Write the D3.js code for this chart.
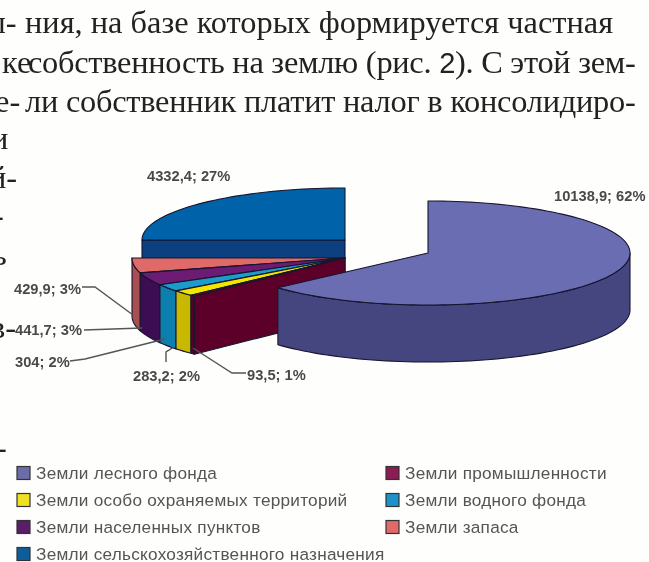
<!DOCTYPE html>
<html><head><meta charset="utf-8">
<script src="https://cdnjs.cloudflare.com/ajax/libs/d3/7.8.5/d3.min.js"></script>
<style>html,body{margin:0;padding:0;background:#fefefc}svg{display:block}</style>
</head><body><div id="c"></div>
<script>
const categories=["Земли лесного фонда","Земли промышленности","Земли особо охраняемых территорий","Земли водного фонда","Земли населенных пунктов","Земли запаса","Земли сельскохозяйственного назначения"];
const values=[10138.9,93.5,283.2,304,441.7,429.9,4332.4];
const valueLabels=["10138,9; 62%","93,5; 1%","283,2; 2%","304; 2%","441,7; 3%","429,9; 3%","4332,4; 27%"];
const topColors=["#6a6db2","#7a0038","#f2e600","#1b9ccc","#6d1a73","#e06a68","#0462a8"];
const wallColors=["#45457f","#5c0029","#c9b800","#0f7fae","#3c0a52","#a85052","#07417f"];
const legendColors=["#6a6da8","#8c1a55","#f0e020","#1a93c8","#5d1a6b","#e06a68","#0f5c9c"];
const legendOrder=[[0,0],[2,0],[4,0],[6,0],[1,1],[3,1],[5,1]];
const leaders=[[],[[193,348],[232,373],[246,373]],[[166,362],[166,352],[174,347]],[[70,361],[85,359],[165,339]],[[84,330],[142,328]],[[82,287],[95,287],[133,315]],[]];
const labelAnchors=[[554,201],[247,380],[133,381],[15,367],[15,335],[14,294],[147,181]];
const paragraph=[
 {x:25,y:33,ls:0,parts:["ния, на базе которых формируется частная"]},
 {x:28,y:73,ls:-0.27,parts:["собственность на землю (рис. ",["2"],"). С этой зем-"]},
 {x:25,y:112,ls:-0.24,parts:["ли собственник платит налог в консолидиро-"]}];
const margins=[
 {x:-16,y:33,t:"ы-"},{x:2,y:73,t:"ке"},{x:-5,y:112,t:"е-"},{x:-9,y:149,t:"и"},
 {x:-11,y:188,t:"й-"},{x:-7,y:226,t:"-"},{x:-8,y:265,t:"ь"},{x:-10,y:338,t:"в-"},{x:-4,y:458,t:"-"}];

const W=649,H=562;
const svg=d3.select("#c").append("svg").attr("width",W).attr("height",H);
svg.append("rect").attr("width",W).attr("height",H).attr("fill","#fefefc");
const defs=svg.append("defs");
defs.append("filter").attr("id","soft").append("feGaussianBlur").attr("stdDeviation",0.55);
defs.append("filter").attr("id","soft2").append("feGaussianBlur").attr("stdDeviation",0.4);
defs.append("filter").attr("id","soft3").append("feGaussianBlur").attr("stdDeviation",0.75);

// body text
const body=svg.append("g").attr("font-family","'Liberation Serif',serif").attr("font-size",32.4).attr("fill","#222").attr("filter","url(#soft2)");
paragraph.forEach(l=>{
  const t=body.append("text").attr("x",l.x).attr("y",l.y).attr("letter-spacing",l.ls);
  l.parts.forEach(p=>{
    if(Array.isArray(p)) t.append("tspan").attr("font-family","'Liberation Sans',sans-serif").attr("font-size",29).text(p[0]);
    else t.append("tspan").text(p);
  });
});
body.selectAll("text.m").data(margins).join("text").attr("class","m").attr("x",d=>d.x).attr("y",d=>d.y).text(d=>d.t);

// pie
const pie=d3.pie().sort(null).value(d=>d).startAngle(0).endAngle(2*Math.PI);
const arcs=pie(values);
const deg=Math.PI/180;
// tilt correction: pie angle -> apparent angle of the perspective drawing
const cum=arcs.map(a=>a.endAngle);
const warp=d3.scaleLinear().domain([0,cum[0],cum[5],cum[6]])
  .range([0,228,270,360].map(d=>d*deg));
const warpSmall=d3.scaleLinear().domain([cum[0],cum[1],cum[2],cum[3],cum[4],cum[5]])
  .range([225,226.3,232.5,240.3,254,270].map(d=>d*deg));
const geom={forest:{cx:428,cy:253,rx:202,ry:52,depth:57},small:{cx:345,cy:258,rx:213,ry:54,depth:58},blue:{cx:345,cy:240,rx:203,ry:52,depth:58}};
const pt=(g,a,dz=0)=>[g.cx+g.rx*Math.sin(a),g.cy-g.ry*Math.cos(a)+dz];
const line=d3.line();
function rim(g,a0,a1,dz){const n=Math.max(2,Math.ceil(Math.abs(a1-a0)/(2*deg)));return d3.range(n+1).map(i=>pt(g,a0+(a1-a0)*i/n,dz));}
const chart=svg.append("g").attr("filter","url(#soft)").attr("stroke","#15152e").attr("stroke-width",1.1).attr("stroke-linejoin","round");
function wallOuter(g,a0,a1,fill){
  const s=Math.max(a0,90*deg),e=Math.min(a1,270*deg);
  if(e<=s)return;
  const p=rim(g,s,e,0).concat(rim(g,e,s,g.depth));
  chart.append("path").attr("d",line(p)+"Z").attr("fill",fill);
}
function wallRadial(g,a,fill){
  const o=pt(g,a),c=[g.cx,g.cy];
  chart.append("path").attr("d",line([c,o,[o[0],o[1]+g.depth],[c[0],c[1]+g.depth]])+"Z").attr("fill",fill);
}
function topFace(g,a0,a1,fill){
  const p=[[g.cx,g.cy]].concat(rim(g,a0,a1,0));
  chart.append("path").attr("d",line(p)+"Z").attr("fill",fill);
}
// blue, exploded to the back
const aB0=warp(arcs[6].startAngle),aB1=warp(arcs[6].endAngle);
wallRadial(geom.blue,aB0,wallColors[6]);
topFace(geom.blue,aB0,aB1,topColors[6]);
// small slices, back to front
[5,4,3,2,1].forEach(i=>{
  const a0=warpSmall(arcs[i].startAngle),a1=warpSmall(arcs[i].endAngle);
  wallOuter(geom.small,a0,a1,wallColors[i]);
  topFace(geom.small,a0,a1,topColors[i]);
});
wallRadial(geom.small,warpSmall(arcs[1].startAngle),wallColors[1]);
// forest
const aF0=warp(arcs[0].startAngle),aF1=warp(arcs[0].endAngle);
wallOuter(geom.forest,aF0,aF1,wallColors[0]);
topFace(geom.forest,aF0,aF1,topColors[0]);

// leaders + labels
const lab=svg.append("g").attr("filter","url(#soft)");
leaders.forEach(p=>{ if(p.length>1) lab.append("path").attr("d",line(p)).attr("fill","none").attr("stroke","#555").attr("stroke-width",1.4); });
lab.selectAll("text").data(valueLabels).join("text")
  .attr("x",(d,i)=>labelAnchors[i][0]).attr("y",(d,i)=>labelAnchors[i][1])
  .attr("font-family","'Liberation Sans',sans-serif").attr("font-weight","bold").attr("font-size",14.7).attr("fill","#4a4a4a").text(d=>d);

// legend
const rowY=d3.scalePoint().domain(d3.range(4)).range([473,554]);
const colX=d3.scaleOrdinal().domain([0,1]).range([17,386]);
const leg=svg.append("g").attr("filter","url(#soft3)");
const rowCount=[0,0];
legendOrder.forEach(([i,c])=>{
  const r=rowCount[c]++;
  leg.append("rect").attr("x",colX(c)).attr("y",rowY(r)-6.5).attr("width",13).attr("height",13).attr("fill",legendColors[i]).attr("stroke","#333").attr("stroke-width",1.2);
  leg.append("text").attr("x",colX(c)+19).attr("y",rowY(r)+6).attr("font-family","'Liberation Sans',sans-serif").attr("font-size",17.2).attr("letter-spacing",0.25).attr("fill","#555").text(categories[i]);
});
</script></body></html>
